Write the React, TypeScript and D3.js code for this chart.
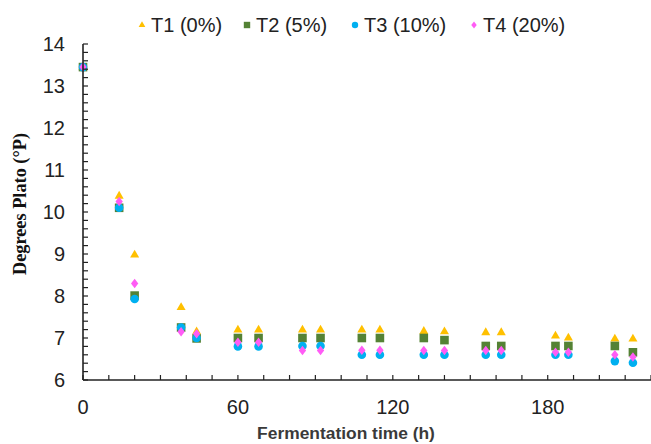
import React from "react";
import * as d3 from "d3";

const width = 651;
const height = 444;
const margin = { top: 44, right: 0, bottom: 64, left: 83 };

// fermentation time (h)
const times = [0, 14, 20, 38, 44, 60, 68, 85, 92, 108, 115, 132, 140, 156, 162, 183, 188, 206, 213];
// degrees Plato per treatment
const t1 = [13.45, 10.38, 8.98, 7.73, 7.15, 7.19, 7.19, 7.19, 7.19, 7.19, 7.19, 7.16, 7.15, 7.13, 7.13, 7.05, 7.0, 6.98, 6.98];
const t2 = [13.45, 10.1, 8.01, 7.25, 6.99, 7.0, 7.0, 7.0, 7.0, 7.0, 7.0, 7.0, 6.95, 6.81, 6.81, 6.81, 6.81, 6.81, 6.66];
const t3 = [13.45, 10.1, 7.93, 7.25, 7.0, 6.8, 6.8, 6.81, 6.81, 6.6, 6.6, 6.6, 6.6, 6.6, 6.6, 6.6, 6.6, 6.45, 6.41];
const t4 = [13.45, 10.25, 8.3, 7.15, 7.1, 6.9, 6.9, 6.7, 6.7, 6.71, 6.71, 6.7, 6.7, 6.7, 6.7, 6.66, 6.66, 6.6, 6.55];

const seriesNames = ["T1 (0%)", "T2 (5%)", "T3 (10%)", "T4 (20%)"];
const xTickLabels = [0, 60, 120, 180];
const yTickLabels = [6, 7, 8, 9, 10, 11, 12, 13, 14];

const colors = ["#FFC000", "#548235", "#00B0F0", "#FF5CF5"];
const shapes = ["triangle", "square", "circle", "diamond"];

const markerPath = (shape: string, r: number) => {
  if (shape === "triangle") return d3.symbol(d3.symbolTriangle, r * r * 1.9)();
  if (shape === "square") return d3.symbol(d3.symbolSquare, r * r * 4)();
  if (shape === "circle") return d3.symbol(d3.symbolCircle, Math.PI * r * r)();
  // diamond, a bit taller than wide
  const w = r * 0.85;
  const h = r * 1.1;
  return `M0,${-h}L${w},0L0,${h}L${-w},0Z`;
};

const App = () => {
  const series = [t1, t2, t3, t4];

  const x = d3.scaleLinear().domain([0, 220]).range([margin.left, width - margin.right]);
  const y = d3.scaleLinear().domain([6, 14]).range([height - margin.bottom, margin.top]);

  const xMinor = d3.range(0, 221, 10);
  const yMinor = d3.range(6, 14.001, 0.2);

  const legendX = [142, 247, 355, 474];

  return (
    <svg
      width={width}
      height={height}
      style={{ position: "absolute", left: 0, top: 0, background: "#fff" }}
      fontFamily="Arial, 'Liberation Sans', sans-serif"
    >
      {/* legend */}
      {seriesNames.map((name, i) => (
        <g key={name} transform={`translate(${legendX[i]},25)`}>
          <path d={markerPath(shapes[i], 3.2)} fill={colors[i]} />
          <text x={9} dy="0.35em" fontSize={20} fill="#222">
            {name}
          </text>
        </g>
      ))}

      {/* points */}
      {series.map((vals, i) =>
        vals.map((v, j) => (
          <path
            key={`${i}-${j}`}
            transform={`translate(${x(times[j])},${y(v)})`}
            d={markerPath(shapes[i], 4.3)}
            fill={colors[i]}
          />
        ))
      )}

      {/* y axis */}
      <line x1={x(0)} x2={x(0)} y1={y(6)} y2={y(14)} stroke="#222" strokeWidth={1.6} />
      {yMinor.map((v) => (
        <line key={v} x1={x(0)} x2={x(0) + 5} y1={y(v)} y2={y(v)} stroke="#222" strokeWidth={1.2} />
      ))}
      {yTickLabels.map((v) => (
        <text key={v} x={x(0) - 18} y={y(v)} dy="0.35em" textAnchor="end" fontSize={20} fill="#222">
          {v}
        </text>
      ))}

      {/* x axis */}
      <line x1={x(0)} x2={width} y1={y(6)} y2={y(6)} stroke="#222" strokeWidth={1.6} />
      {xMinor.map((t) => (
        <line key={t} x1={x(t)} x2={x(t)} y1={y(6)} y2={y(6) - 5} stroke="#222" strokeWidth={1.2} />
      ))}
      {xTickLabels.map((t) => (
        <text key={t} x={x(t)} y={407} dy="0.35em" textAnchor="middle" fontSize={20} fill="#222">
          {t}
        </text>
      ))}

      {/* axis titles */}
      <text x={346} y={433} dy="0.35em" textAnchor="middle" fontSize={17.4} fontWeight="bold" fill="#3a3a3a">
        Fermentation time (h)
      </text>
      <text
        transform="translate(20,204) rotate(-90)"
        dy="0.35em"
        textAnchor="middle"
        fontSize={18.3}
        fontWeight="bold"
        fontFamily="'Times New Roman', 'Liberation Serif', serif"
        fill="#111"
      >
        Degrees Plato (°P)
      </text>
    </svg>
  );
};

export default App;
